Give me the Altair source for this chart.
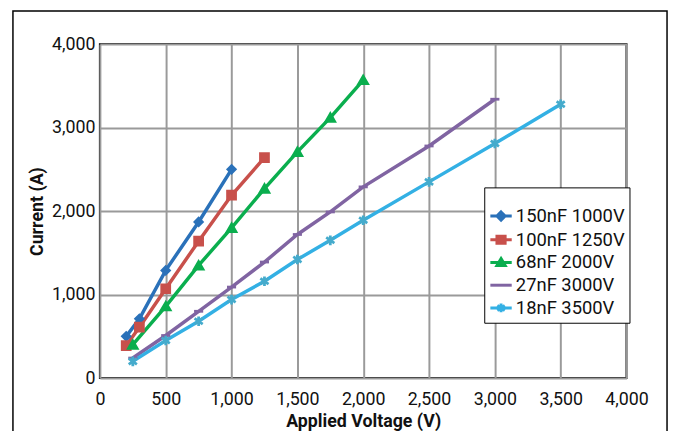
import altair as alt
import pandas as pd

# ---------------- data ----------------
series_names = ["150nF 1000V", "100nF 1250V", "68nF 2000V", "27nF 3000V", "18nF 3500V"]
line_colors = ["#2a71b9", "#c8504b", "#0aae4e", "#8064a2", "#33b0e4"]
marker_colors = ["#2a71b9", "#c8504b", "#0aae4e", "#8064a2", "#45abcc"]

v_150 = [200, 300, 500, 750, 1000]
i_150 = [500, 710, 1290, 1870, 2500]
v_100 = [200, 300, 500, 750, 1000, 1250]
i_100 = [390, 610, 1070, 1640, 2190, 2640]
v_68 = [250, 500, 750, 1000, 1250, 1500, 1750, 2000]
i_68 = [400, 860, 1350, 1800, 2270, 2710, 3120, 3570]
v_27 = [250, 500, 750, 1000, 1250, 1500, 1750, 2000, 2500, 3000]
i_27 = [240, 510, 800, 1090, 1390, 1720, 1990, 2290, 2780, 3340]
v_18 = [250, 500, 750, 1000, 1250, 1500, 1750, 2000, 2500, 3000, 3500]
i_18 = [200, 450, 680, 940, 1160, 1420, 1650, 1890, 2350, 2810, 3280]

x_ticks = [0, 500, 1000, 1500, 2000, 2500, 3000, 3500, 4000]
y_ticks = [0, 1000, 2000, 3000, 4000]

volts = [v_150, v_100, v_68, v_27, v_18]
amps = [i_150, i_100, i_68, i_27, i_18]
df = pd.concat(
    [pd.DataFrame({"series": n, "voltage": v, "current": i}) for n, v, i in zip(series_names, volts, amps)],
    ignore_index=True,
)

# ---------------- styling ----------------
asterisk = "M0,-1L0,1M-0.85,-0.6L0.85,0.6M-0.85,0.6L0.85,-0.6"
marker_shapes = ["diamond", "square", "triangle-up", "stroke", asterisk]
marker_sizes = [55, 95, 110, 100, 180]

legend_shapes = [
    "M-0.94,0L0.94,0M0,-0.36L0.36,0L0,0.36L-0.36,0Z",
    "M-0.94,0L0.94,0M-0.36,-0.32L0.36,-0.32L0.36,0.32L-0.36,0.32Z",
    "M-0.94,0L0.94,0M0,-0.34L0.36,0.26L-0.36,0.26Z",
    "M-0.94,0L0.94,0",
    "M-0.94,0L0.94,0M0,-0.38L0,0.38M-0.33,-0.22L0.33,0.22M-0.33,0.22L0.33,-0.22",
]

W, H = 533, 338

x_enc = alt.X(
    "voltage:Q",
    scale=alt.Scale(domain=[0, 4000], nice=False),
    axis=alt.Axis(
        values=x_ticks, format=",d", title="Applied Voltage (V)",
        labelBaseline="alphabetic", labelPadding=27, labelFlush=False, labelOverlap=False,
        titleX=W / 2, titleY=49, titleBaseline="alphabetic",
    ),
)
y_enc = alt.Y(
    "current:Q",
    scale=alt.Scale(domain=[0, 4000], nice=False),
    axis=alt.Axis(
        values=y_ticks, format=",d", title="Current (A)",
        labelPadding=5, labelFlush=False, labelOverlap=False,
        titleX=-58, titleY=H / 2, titleAngle=270,
        titleBaseline="alphabetic", titleAlign="center",
    ),
)

frame = alt.Chart(pd.DataFrame({"k": [0]})).mark_rect(
    fillOpacity=0, stroke="black", strokeWidth=1.5
).encode(
    x=alt.value(-88), x2=alt.value(574), y=alt.value(-33.5), y2=alt.value(420)
)

lines = alt.Chart(df).mark_line(strokeWidth=3.5).encode(
    x=x_enc,
    y=y_enc,
    color=alt.Color("series:N", scale=alt.Scale(domain=series_names, range=line_colors), legend=None),
    order="voltage:Q",
)

points = alt.Chart(df).mark_point(filled=True, opacity=1, strokeWidth=2.8).encode(
    x="voltage:Q",
    y="current:Q",
    fill=alt.Fill("series:N", scale=alt.Scale(domain=series_names, range=marker_colors), legend=None),
    stroke=alt.Stroke("series:N", scale=alt.Scale(domain=series_names, range=marker_colors), legend=None),
    shape=alt.Shape("series:N", scale=alt.Scale(domain=series_names, range=marker_shapes), legend=None),
    size=alt.Size("series:N", scale=alt.Scale(domain=series_names, range=marker_sizes), legend=None),
)

leg = dict(
    title=" ", orient="none", legendX=389, legendY=145, padding=4,
    strokeColor="black", fillColor="white",
    labelFont="Roboto", labelFontSize=18.6, labelColor="#111111", labelLimit=300,
    symbolSize=529, symbolStrokeWidth=3, rowPadding=0, labelOffset=2,
    titleFontSize=12, titlePadding=0,
)

legend_layer = alt.Chart(df).transform_filter("false").mark_point(filled=True, opacity=1, strokeWidth=3).encode(
    x="voltage:Q",
    y="current:Q",
    fill=alt.Fill("series:N", scale=alt.Scale(domain=series_names, range=marker_colors), legend=alt.Legend(**leg)),
    stroke=alt.Stroke("series:N", scale=alt.Scale(domain=series_names, range=line_colors), legend=alt.Legend(**leg)),
    shape=alt.Shape("series:N", scale=alt.Scale(domain=series_names, range=legend_shapes), legend=alt.Legend(**leg)),
)

chart = alt.layer(frame, lines, points, legend_layer).resolve_scale(
    color="independent", fill="independent", stroke="independent", shape="independent", size="independent"
).properties(
    width=W, height=H,
    autosize=alt.AutoSizeParams(type="none"),
    padding={"left": 93, "top": 34, "right": 44, "bottom": 51},
).configure(
    font="Roboto",
).configure_view(
    stroke="black", strokeWidth=2,
).configure_axis(
    grid=True, gridColor="#9a9a9a", gridWidth=2,
    domain=False, ticks=False,
    labelFont="Roboto", labelFontSize=18, labelColor="#111111",
    titleFont="Roboto", titleFontSize=18, titleFontWeight="bold", titleColor="#111111",
)

chart.save("out.html", embed_options={"renderer": "svg", "actions": False})
